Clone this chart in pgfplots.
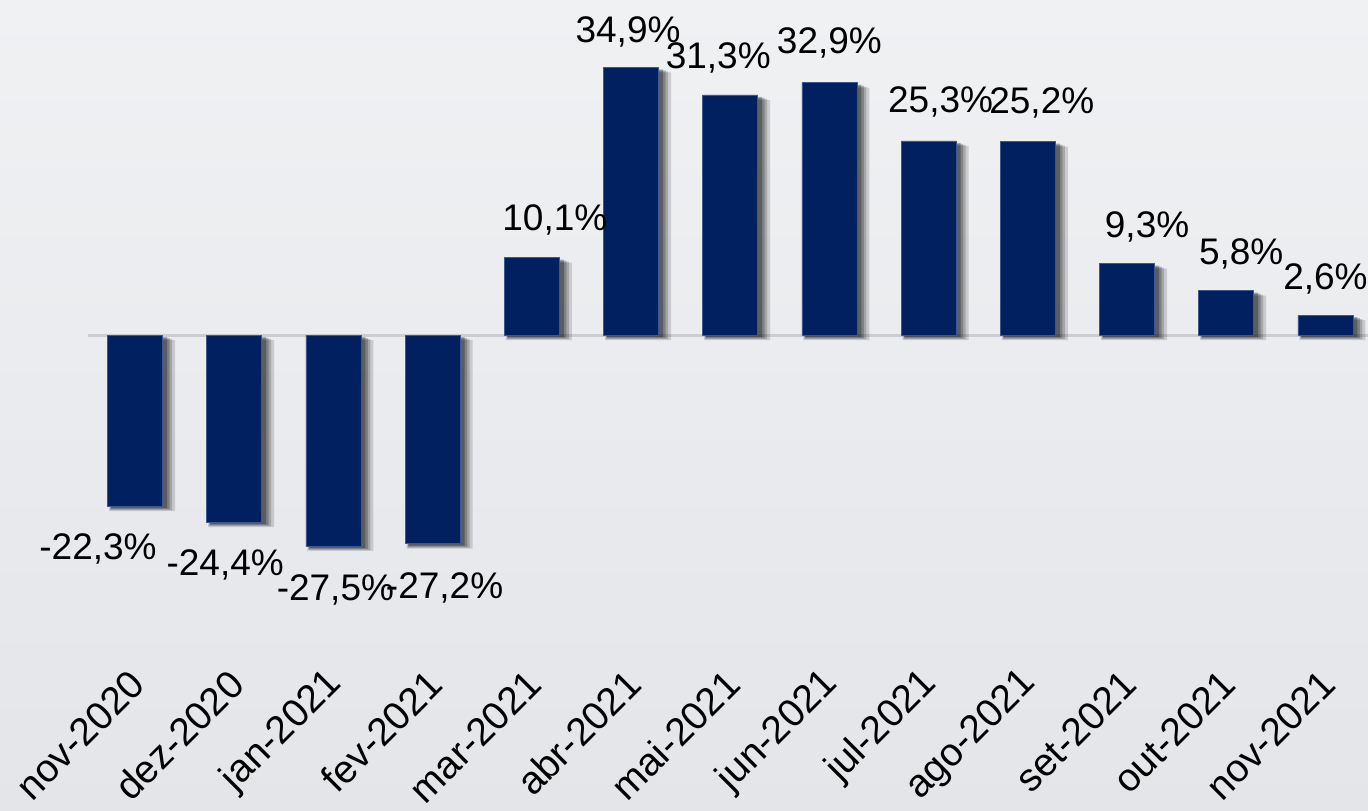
\documentclass[border=0pt]{standalone}
\usepackage{pgfplots}
\pgfplotsset{compat=1.18}
\usepackage{pgfplotstable}
\usepackage{fontspec}
\setmainfont{Liberation Sans}
\definecolor{navy}{RGB}{0,32,96}
\definecolor{navyedge}{RGB}{60,88,145}
\definecolor{bgtop}{RGB}{240,241,243}
\definecolor{bgbot}{RGB}{227,229,233}
\definecolor{zeroline}{RGB}{205,205,208}

% x: category, y: value, lx/ly: position of the value label
\pgfplotstableread{
x y lx ly
0 -22.3 -0.373 -29.275
1 -24.4 0.909 -31.375
2 -27.5 2.020 -34.671
3 -27.2 3.121 -34.371
4 10.1 4.232 13.685
5 34.9 4.970 38.159
6 31.3 5.879 34.690
7 32.9 7.000 36.681
8 25.3 8.121 28.951
9 25.2 9.141 28.851
10 9.3 10.202 12.690
11 5.8 11.151 9.190
12 2.6 12.000 5.990
}\datatable

\begin{document}
\begin{tikzpicture}
\shade[top color=bgtop, bottom color=bgbot] (0,0) rectangle (684pt,405pt);
\useasboundingbox (0,0) rectangle (684pt,405pt);
\begin{axis}[
  x=49.6pt, y=3.835pt,
  anchor=origin, at={(67.5pt,237.5pt)},
  xmin=-0.47, xmax=12.43,
  ymin=-45, ymax=40,
  clip=false,
  axis line style={draw=none},
  major tick length=0pt,
  ytick=\empty,
  extra y ticks={0},
  extra y tick labels={},
  extra y tick style={grid=major, major grid style={draw=zeroline, line width=1.5pt}},
  xtick={0,...,12},
  xticklabels={nov-2020,dez-2020,jan-2021,fev-2021,mar-2021,abr-2021,mai-2021,jun-2021,jul-2021,ago-2021,set-2021,out-2021,nov-2021},
  xticklabel style={rotate=45, anchor=east, inner sep=0pt, xshift=2pt, font=\fontsize{19.5}{23}\selectfont},
  tick label style={text=black},
]
% soft shadow layers
\addplot[ybar, bar width=33pt, bar shift=3.5pt, fill=black, draw=none, opacity=0.14, yshift=-2.5pt] table[x=x, y=y] {\datatable};
\addplot[ybar, bar width=31pt, bar shift=3pt, fill=black, draw=none, opacity=0.18, yshift=-2pt] table[x=x, y=y] {\datatable};
\addplot[ybar, bar width=29.5pt, bar shift=2.5pt, fill=black, draw=none, opacity=0.22, yshift=-1.5pt] table[x=x, y=y] {\datatable};
\addplot[ybar, bar width=28pt, bar shift=2pt, fill=black, draw=none, opacity=0.28, yshift=-1pt] table[x=x, y=y] {\datatable};
% bars
\addplot[ybar, bar width=27.5pt, bar shift=0pt, fill=navy, draw=navyedge, line width=0.3pt] table[x=x, y=y] {\datatable};
% value labels
\addplot[draw=none, mark=none, point meta=explicit,
  nodes near coords={\pgfmathprintnumber[fixed, fixed zerofill, precision=1, use comma, assume math mode=true]{\pgfplotspointmeta}\%},
  every node near coord/.append style={anchor=base, inner sep=0pt, text=black, font=\fontsize{18.5}{22}\selectfont},
] table[x=lx, y=ly, meta=y] {\datatable};
\end{axis}
\end{tikzpicture}
\end{document}
